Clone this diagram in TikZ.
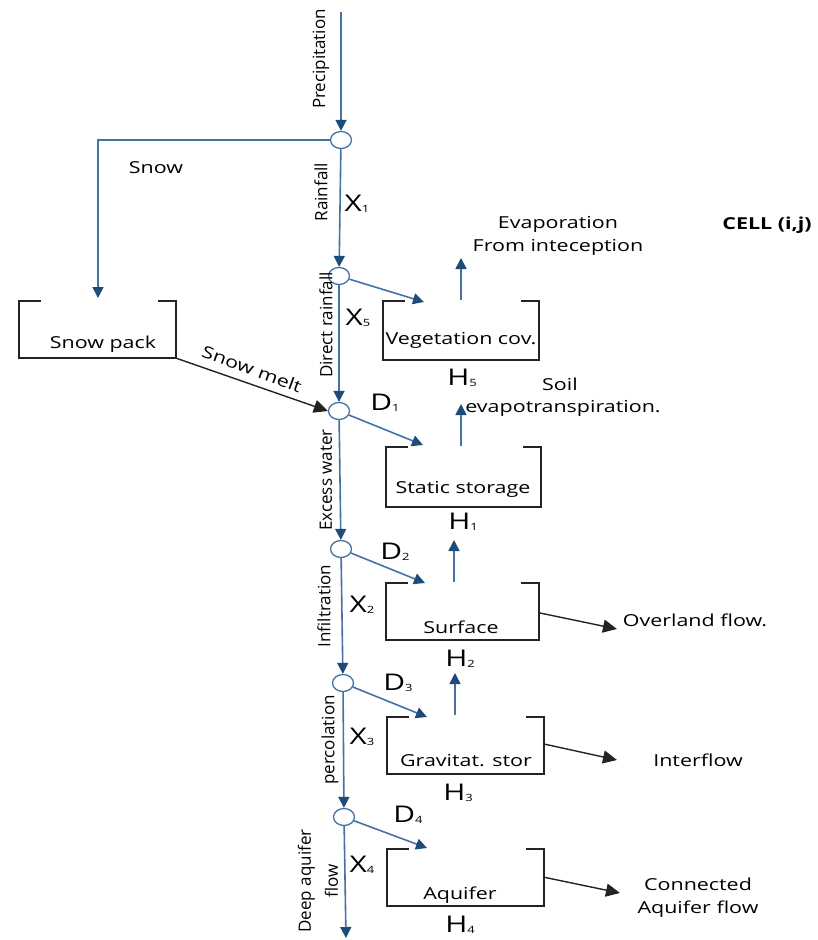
\documentclass[tikz,border=0pt]{standalone}
\usepackage{fontspec}
\setmainfont[FakeStretch=1.3]{Open Sans}
\newfontfamily\vfont{Open Sans}
\usetikzlibrary{arrows.meta,shapes.geometric,calc}
\definecolor{lineblue}{RGB}{68,114,165}
\definecolor{tipblue}{RGB}{30,75,120}
\definecolor{boxgray}{RGB}{35,35,35}
\newcommand\lowsub[1]{\raisebox{-1pt}{\fontsize{10}{10}\selectfont #1}}
\newcommand\obox[1]{\draw[boxline] ($(#1.north west)+(22,0)$) -- (#1.north west) -- (#1.south west) -- (#1.south east) -- (#1.north east) -- ($(#1.north east)+(-18,0)$);}
\tikzset{
  flow/.style={draw=lineblue, line width=1.6pt, -{Triangle[length=11pt,width=11pt,color=tipblue]}},
  outarrow/.style={draw=boxgray, line width=1.4pt, -{Triangle[length=14pt,width=13pt]}},
  junction/.style={ellipse, draw=lineblue, line width=1.3pt, fill=white, minimum width=21pt, minimum height=17pt, inner sep=0pt},
  boxline/.style={draw=boxgray, line width=1.5pt},
  tank/.style={inner sep=0pt},
  lbl/.style={font=\fontsize{16.5}{23}\selectfont, inner sep=0pt},
  vlbl/.style={font=\vfont\fontsize{17}{27}\selectfont, rotate=90, inner sep=0pt},
  big/.style={font=\fontsize{23}{24}\selectfont, inner sep=0pt},
  cell/.style={font=\bfseries\fontsize{16.5}{18}\selectfont, inner sep=0pt}
}
\begin{document}
\begin{tikzpicture}[x=1pt,y=-1pt]
\useasboundingbox (0,0) rectangle (817,940);

% junctions
\coordinate (top) at (341,12);
\node[junction] (c1) at (341,140) {};
\node[junction] (c2) at (339,276) {};
\node[junction] (c3) at (339,411) {};
\node[junction] (c4) at (341,549) {};
\node[junction] (c5) at (343,683) {};
\node[junction] (c6) at (344,817) {};
\coordinate (bottom) at (346,938);

% tanks
\node[tank, minimum width=157pt, minimum height=57pt] (snowpack) at (97.5,329.5) {};
\node[tank, minimum width=156pt, minimum height=59pt] (veg) at (461,330.5) {};
\node[tank, minimum width=155pt, minimum height=60pt] (static) at (463.5,477) {};
\node[tank, minimum width=153pt, minimum height=57pt] (surface) at (462.5,611.5) {};
\node[tank, minimum width=157pt, minimum height=57pt] (grav) at (465.5,745.5) {};
\node[tank, minimum width=157pt, minimum height=57pt] (aquifer) at (465.5,877.5) {};
\obox{snowpack}
\obox{veg}
\obox{static}
\obox{surface}
\obox{grav}
\obox{aquifer}

% main vertical flow
\draw[flow] (top) -- (c1);
\draw[flow] (c1) -- (c2);
\draw[flow] (c2) -- (c3);
\draw[flow] (c3) -- (c4);
\draw[flow] (c4) -- (c5);
\draw[flow] (c5) -- (c6);
\draw[flow] (c6) -- (bottom);

% snow branch
\coordinate (snowcorner) at (98,140);
\coordinate (snowend) at (98,298);
\draw[flow] (c1.west) -- (snowcorner) -- (snowend);
\draw[outarrow] (snowpack.south east) -- (c3.west);

% inflows to tanks
\coordinate (in5) at (424,302);
\coordinate (in1) at (423,445);
\coordinate (in2) at (425,583);
\coordinate (in3) at (427,717);
\coordinate (in4) at (427,848);
\draw[flow] (c2) -- (in5);
\draw[flow] (c3) -- (in1);
\draw[flow] (c4) -- (in2);
\draw[flow] (c5) -- (in3);
\draw[flow] (c6) -- (in4);

% upward arrows
\coordinate (u5a) at (461,300); \coordinate (u5b) at (461,258);
\coordinate (u1a) at (461,446); \coordinate (u1b) at (461,404);
\coordinate (u2a) at (454,582); \coordinate (u2b) at (454,540);
\coordinate (u3a) at (455,715); \coordinate (u3b) at (455,673);
\draw[flow] (u5a) -- (u5b);
\draw[flow] (u1a) -- (u1b);
\draw[flow] (u2a) -- (u2b);
\draw[flow] (u3a) -- (u3b);

% outflows
\coordinate (o2a) at (540,613); \coordinate (o2b) at (617,629);
\coordinate (o3a) at (544,744); \coordinate (o3b) at (617,760);
\coordinate (o4a) at (543,877); \coordinate (o4b) at (620,893);
\draw[outarrow] (o2a) -- (o2b);
\draw[outarrow] (o3a) -- (o3b);
\draw[outarrow] (o4a) -- (o4b);

% rotated labels
\node[vlbl] (lprec) at (321,59) {Precipitation};
\node[vlbl] (lrain) at (321,192) {Rainfall};
\node[vlbl] (ldir) at (326,325) {Direct rainfall};
\node[vlbl] (lexc) at (326,480) {Excess water};
\node[vlbl] (linf) at (324,606) {Infiltration};
\node[vlbl] (lperc) at (330,740) {percolation};
\node[vlbl, align=center] (ldeep) at (318,881) {Deep aquifer\\flow};

% text labels
\node[lbl] (lsnow) at (156,168) {Snow};
\node[lbl] (lsnowpack) at (103,344) {Snow pack};
\node[lbl, rotate=-20] (lmelt) at (252,369) {Snow melt};
\node[lbl, align=center] (levap) at (558,236) {Evaporation\\From inteception};
\node[cell] (lcell) at (767,225) {CELL (i,j)};
\node[lbl] (lveg) at (461,340) {Vegetation cov.};
\node[lbl] (lsoil) at (560,384) {Soil};
\node[lbl] (levt) at (563,408) {evapotranspiration.};
\node[lbl] (lstatic) at (463,489) {Static storage};
\node[lbl] (lsurf) at (461,627) {Surface};
\node[lbl] (lgrav) at (466,761) {Gravitat. stor};
\node[lbl] (laq) at (460,895) {Aquifer};
\node[lbl] (lover) at (695,620) {Overland flow.};
\node[lbl] (linter) at (698,760) {Interflow};
\node[lbl, align=center] (lconn) at (698,898) {Connected\\Aquifer flow};

% symbols
\node[big] (x1) at (357,204) {X\lowsub{1}};
\node[big] (x5) at (358,318) {X\lowsub{5}};
\node[big] (x2) at (362,605) {X\lowsub{2}};
\node[big] (x3) at (362,737) {X\lowsub{3}};
\node[big] (x4) at (362,865) {X\lowsub{4}};
\node[big] (h5) at (462,378) {H\lowsub{5}};
\node[big] (h1) at (463,522) {H\lowsub{1}};
\node[big] (h2) at (460,659) {H\lowsub{2}};
\node[big] (h3) at (458,793) {H\lowsub{3}};
\node[big] (h4) at (460,925) {H\lowsub{4}};
\node[big] (d1) at (385,403) {D\lowsub{1}};
\node[big] (d2) at (395,552) {D\lowsub{2}};
\node[big] (d3) at (398,683) {D\lowsub{3}};
\node[big] (d4) at (408,815) {D\lowsub{4}};
\end{tikzpicture}
\end{document}
